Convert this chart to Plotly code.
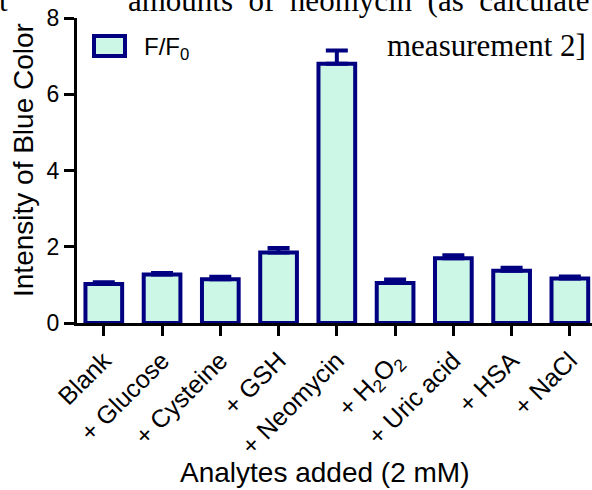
import plotly.graph_objects as go

categories = ["Blank", "+ Glucose", "+ Cysteine", "+ GSH", "+ Neomycin",
              "+ H<sub>2</sub>O<sub>2</sub>", "+ Uric acid", "+ HSA", "+ NaCl"]
values = [1.02, 1.27, 1.15, 1.85, 6.80, 1.05, 1.70, 1.37, 1.17]
errors = [0.05, 0.04, 0.06, 0.12, 0.35, 0.09, 0.08, 0.08, 0.05]
y_ticks = [0, 2, 4, 6, 8]

NAVY = "#000080"
FILL = "#CCF7E6"
FONT = "Arial, Liberation Sans, sans-serif"
SERIF = "Times New Roman, Liberation Serif, serif"

W, H = 592, 490
L, R, T, B = 77, 0, 18, 167
pw, ph = W - L - R, H - T - B

def px(x):
    return (x - L) / pw

def py(y):
    return (H - B - y) / ph

fig = go.Figure()
fig.add_trace(go.Bar(
    x=list(range(len(categories))), y=values, width=0.63,
    marker=dict(color=FILL, line=dict(color=NAVY, width=4)),
    error_y=dict(type="data", array=errors, arrayminus=[0] * len(errors),
                 symmetric=False, color=NAVY, thickness=4, width=11),
    showlegend=False,
))

fig.update_layout(
    width=W, height=H,
    margin=dict(l=L, r=R, t=T, b=B, pad=0),
    plot_bgcolor="white", paper_bgcolor="white",
    font=dict(family=FONT, color="black", size=22),
    xaxis=dict(
        range=[-0.46, 8.38], tickmode="array",
        tickvals=list(range(len(categories))), ticktext=categories,
        tickangle=-45, ticks="outside", ticklen=10, tickwidth=2.5, tickcolor="black",
        showline=True, linecolor="black", linewidth=3, showgrid=False, zeroline=False,
        tickfont=dict(size=25),
    ),
    yaxis=dict(
        range=[0, 8], tickmode="array", tickvals=y_ticks,
        ticks="outside", ticklen=10, tickwidth=2.5, tickcolor="black",
        showline=True, linecolor="black", linewidth=3, showgrid=False, zeroline=False,
        tickfont=dict(size=23),
    ),
)

# axis titles
fig.add_annotation(xref="paper", yref="paper", x=px(324), y=py(472),
                   text="Analytes added (2 mM)", showarrow=False,
                   xanchor="center", yanchor="middle", font=dict(size=28, family=FONT))
fig.add_annotation(xref="paper", yref="paper", x=px(23), y=py(160),
                   text="Intensity of Blue Color", showarrow=False, textangle=-90,
                   xanchor="center", yanchor="middle", font=dict(size=28, family=FONT))

# legend
fig.add_shape(type="rect", xref="paper", yref="paper",
              x0=px(94), x1=px(125), y0=py(56), y1=py(36),
              line=dict(color=NAVY, width=4), fillcolor=FILL)
fig.add_annotation(xref="paper", yref="paper", x=px(142), y=py(48),
                   text="F/F<sub>0</sub>", showarrow=False, xanchor="left",
                   yanchor="middle", font=dict(size=24, family=FONT))

# cropped caption fragments
fig.add_annotation(xref="paper", yref="paper", x=px(-3), y=py(20),
                   text="t", showarrow=False, xanchor="left", yanchor="bottom",
                   font=dict(size=31, family=SERIF))
fig.add_annotation(xref="paper", yref="paper", x=px(126), y=py(20),
                   text="amounts  of  neomycin  (as  calculate", showarrow=False,
                   xanchor="left", yanchor="bottom", font=dict(size=31, family=SERIF))
fig.add_annotation(xref="paper", yref="paper", x=px(385), y=py(45),
                   text="measurement 2]", showarrow=False,
                   xanchor="left", yanchor="middle", font=dict(size=31, family=SERIF))

fig.write_html("out.html")
